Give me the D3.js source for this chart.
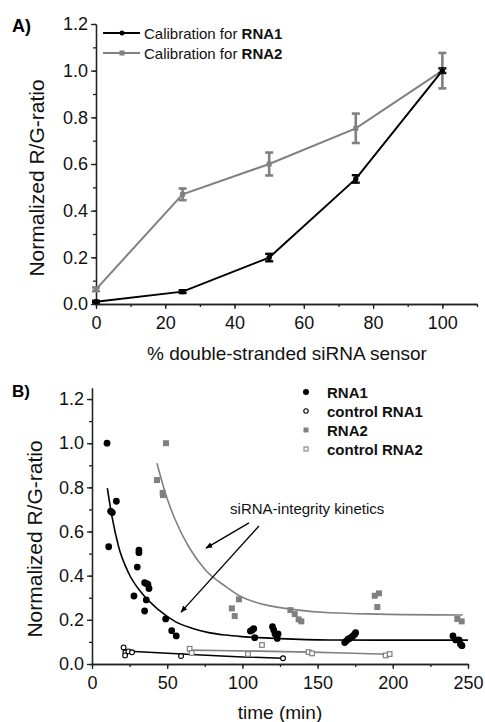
<!DOCTYPE html>
<html>
<head>
<meta charset="utf-8">
<script src="https://cdn.jsdelivr.net/npm/d3@7"></script>
<style>
  body { margin: 0; background: #fff; }
  svg { font-family: "Liberation Sans", Arial, sans-serif; }
  .axis path, .axis line { stroke: #222; stroke-width: 1.3; }
</style>
</head>
<body>
<svg id="chart" width="485" height="722"></svg>
<script>
// ---- dados painel A (calibração) ----
const calX      = [0, 25, 50, 75, 100];
const rna1Cal   = [0.01, 0.053, 0.199, 0.536, 1.0];
const rna1Err   = [0.004, 0.006, 0.016, 0.016, 0.01];
const rna2Cal   = [0.063, 0.47, 0.60, 0.753, 1.0];
const rna2Err   = [0.008, 0.025, 0.049, 0.063, 0.076];

// ---- dados painel B (cinética) ----
const rna1T = [10, 12.4, 13.5, 16.2, 11.1, 27.9, 30.1, 31.2, 31.2, 35, 36.1, 37.2, 37.9, 36.1, 35,
               49, 53, 56, 105.3, 106.6, 107.5, 108.2, 120, 120.8, 121.7, 123.7, 123.2,
               168, 169, 170.2, 171.3, 172.4, 173.5, 174.6, 175.3, 240, 241.8, 244, 245, 246];
const rna1V = [1.0, 0.692, 0.686, 0.737, 0.531, 0.308, 0.439, 0.516, 0.504, 0.368, 0.365, 0.36, 0.342, 0.29, 0.24,
               0.204, 0.151, 0.127, 0.149, 0.154, 0.16, 0.119, 0.169, 0.154, 0.136, 0.136, 0.116,
               0.097, 0.104, 0.112, 0.116, 0.121, 0.127, 0.134, 0.142, 0.127, 0.109, 0.109, 0.09, 0.083];

const ctrl1T = [21, 22.2, 22, 24.2, 26.6, 59.2, 127];
const ctrl1V = [0.075, 0.053, 0.039, 0.057, 0.053, 0.036, 0.026];

const rna2T = [43.2, 47, 47.2, 49.2, 93, 94.9, 97.7, 131.9, 134.8, 137.4, 139.2, 188, 190.8, 189.7, 242.9, 245.8];
const rna2V = [0.833, 0.775, 0.765, 1.0, 0.252, 0.217, 0.293, 0.244, 0.226, 0.202, 0.193, 0.309, 0.32, 0.258, 0.204, 0.193];

const ctrl2T = [64.9, 66.3, 103.7, 113, 144, 146.3, 195.3, 197.9];
const ctrl2V = [0.069, 0.05, 0.045, 0.086, 0.054, 0.048, 0.039, 0.045];

// curvas de ajuste
const fit1T = [10.2, 13.3, 17.7, 24.4, 33.2, 44.3, 55.4, 66.5, 77.6, 88.7, 99.7, 125, 158, 191, 250];
const fit1V = [0.796, 0.667, 0.531, 0.411, 0.320, 0.245, 0.192, 0.162, 0.142, 0.131, 0.124, 0.115, 0.109, 0.108, 0.108];
const fit2T = [43.2, 48.8, 55.4, 64.3, 75.4, 88.7, 100, 114, 136, 158, 191, 246.5];
const fit2V = [0.909, 0.773, 0.652, 0.531, 0.426, 0.352, 0.302, 0.27, 0.245, 0.232, 0.226, 0.222];
const fitC1T = [21, 60, 100, 127];
const fitC1V = [0.059, 0.045, 0.032, 0.026];
const fitC2T = [64.3, 92, 145, 191, 198];
const fitC2V = [0.063, 0.060, 0.054, 0.045, 0.044];

const legendB = ["RNA1", "control RNA1", "RNA2", "control RNA2"];

const CINZA = "#808080";
const svg = d3.select("#chart");

// ================== PAINEL A ==================
const xA = d3.scaleLinear().domain([0, 110]).range([96, 477]);
const yA = d3.scaleLinear().domain([0, 1.2]).range([304, 24]);

function eixos(g, x, y, xMaj, xMin, yMin, xfmt) {
    g.append("g").attr("class", "axis").attr("transform", `translate(0,${y.range()[0]})`)
        .call(d3.axisBottom(x).tickValues(xMin).tickSize(3).tickSizeOuter(0).tickFormat(""));
    g.append("g").attr("class", "axis").attr("transform", `translate(${x.range()[0]},0)`)
        .call(d3.axisLeft(y).tickValues(yMin).tickSize(3).tickSizeOuter(0).tickFormat(""));
    const ax = g.append("g").attr("class", "axis").attr("transform", `translate(0,${y.range()[0]})`)
        .call(d3.axisBottom(x).tickValues(xMaj).tickSize(5).tickSizeOuter(0).tickFormat(xfmt));
    ax.selectAll("text").attr("dy", "0.95em").attr("font-size", 18).attr("fill", "#111")
        .attr("font-family", "Liberation Sans, Arial, sans-serif");
    const ay = g.append("g").attr("class", "axis").attr("transform", `translate(${x.range()[0]},0)`)
        .call(d3.axisLeft(y).tickValues(d3.range(0, 1.21, 0.2)).tickSize(5).tickSizeOuter(0).tickFormat(d3.format(".1f")));
    ay.selectAll("text").attr("font-size", 18).attr("fill", "#111")
        .attr("font-family", "Liberation Sans, Arial, sans-serif");
}

const gA = svg.append("g");
eixos(gA, xA, yA, [0, 20, 40, 60, 80, 100], d3.range(0, 111, 10), d3.range(0, 1.21, 0.1), d3.format("d"));

const lineA = d3.line().x((d, i) => xA(calX[i])).y(d => yA(d));

// RNA2 (cinza) primeiro
gA.append("path").datum(rna2Cal).attr("d", lineA)
    .attr("fill", "none").attr("stroke", CINZA).attr("stroke-width", 2);
gA.append("path").datum(rna1Cal).attr("d", lineA)
    .attr("fill", "none").attr("stroke", "#000").attr("stroke-width", 2);

function barras(vals, errs, cor, larg) {
    vals.forEach((v, i) => {
        const cx = xA(calX[i]);
        const y1 = yA(v + errs[i]), y0 = yA(v - errs[i]);
        gA.append("line").attr("x1", cx).attr("x2", cx).attr("y1", y1).attr("y2", y0)
            .attr("stroke", cor).attr("stroke-width", larg);
        [y1, y0].forEach(yy => gA.append("line").attr("x1", cx - 4).attr("x2", cx + 4)
            .attr("y1", yy).attr("y2", yy).attr("stroke", cor).attr("stroke-width", larg));
    });
}
barras(rna2Cal, rna2Err, CINZA, 2.6);
barras(rna1Cal, rna1Err, "#000", 2.4);

gA.selectAll(".sq2").data(rna2Cal).join("rect")
    .attr("x", (d, i) => xA(calX[i]) - 2.5).attr("y", d => yA(d) - 2.5)
    .attr("width", 5).attr("height", 5).attr("fill", CINZA);
gA.selectAll(".c1").data(rna1Cal).join("circle")
    .attr("cx", (d, i) => xA(calX[i])).attr("cy", d => yA(d)).attr("r", 2.7).attr("fill", "#000");

// legenda A
[["RNA1", "#000", "c"], ["RNA2", CINZA, "s"]].forEach((l, i) => {
    const yy = 33 + i * 20;
    gA.append("line").attr("x1", 103).attr("x2", 140).attr("y1", yy).attr("y2", yy)
        .attr("stroke", l[1]).attr("stroke-width", 2);
    if (l[2] === "c") gA.append("circle").attr("cx", 122).attr("cy", yy).attr("r", 2.5).attr("fill", l[1]);
    else gA.append("rect").attr("x", 119.5).attr("y", yy - 2.5).attr("width", 5).attr("height", 5).attr("fill", l[1]);
    const t = gA.append("text").attr("x", 144).attr("y", yy + 5.5).attr("font-size", 15).attr("fill", "#111");
    t.append("tspan").text("Calibration for ");
    t.append("tspan").attr("font-weight", "bold").text(l[0]);
});

gA.append("text").attr("x", 12).attr("y", 32).attr("font-size", 18).attr("font-weight", "bold").text("A)");
gA.append("text").attr("transform", "translate(44,178) rotate(-90)").attr("text-anchor", "middle")
    .attr("font-size", 21).attr("fill", "#111").text("Normalized R/G-ratio");
gA.append("text").attr("x", 287).attr("y", 360).attr("text-anchor", "middle")
    .attr("font-size", 19).attr("fill", "#111").text("% double-stranded siRNA sensor");

// ================== PAINEL B ==================
const xB = d3.scaleLinear().domain([0, 250]).range([92, 468]);
const yB = d3.scaleLinear().domain([0, 1.25]).range([664, 388]);

const gB = svg.append("g");
eixos(gB, xB, yB, [0, 50, 100, 150, 200, 250], d3.range(0, 251, 25), d3.range(0, 1.21, 0.1), d3.format("d"));

const lineB = d3.line().curve(d3.curveMonotoneX);
function curva(ts, vs, cor, larg) {
    gB.append("path").datum(ts.map((t, i) => [xB(t), yB(vs[i])])).attr("d", lineB)
        .attr("fill", "none").attr("stroke", cor).attr("stroke-width", larg);
}
curva(fit2T, fit2V, CINZA, 1.6);
curva(fitC2T, fitC2V, CINZA, 1.6);
curva(fit1T, fit1V, "#000", 1.6);
curva(fitC1T, fitC1V, "#000", 1.4);

gB.selectAll(".r2").data(rna2T).join("rect")
    .attr("x", d => xB(d) - 3).attr("y", (d, i) => yB(rna2V[i]) - 3)
    .attr("width", 6).attr("height", 6).attr("fill", CINZA);
gB.selectAll(".c2").data(ctrl2T).join("rect")
    .attr("x", d => xB(d) - 2.3).attr("y", (d, i) => yB(ctrl2V[i]) - 2.3)
    .attr("width", 4.6).attr("height", 4.6).attr("fill", "#fff").attr("stroke", CINZA).attr("stroke-width", 1.2);
gB.selectAll(".r1").data(rna1T).join("circle")
    .attr("cx", d => xB(d)).attr("cy", (d, i) => yB(rna1V[i])).attr("r", 3.4).attr("fill", "#000");
gB.selectAll(".k1").data(ctrl1T).join("circle")
    .attr("cx", d => xB(d)).attr("cy", (d, i) => yB(ctrl1V[i])).attr("r", 2.4)
    .attr("fill", "#fff").attr("stroke", "#000").attr("stroke-width", 1.1);

// anotação com setas
svg.append("defs").append("marker").attr("id", "seta").attr("viewBox", "0 0 10 10")
    .attr("refX", 9).attr("refY", 5).attr("markerWidth", 7).attr("markerHeight", 7)
    .attr("orient", "auto").attr("markerUnits", "userSpaceOnUse")
    .append("path").attr("d", "M0,1 L10,5 L0,9 Z").attr("fill", "#000");
const setas = [[104.4, 0.639, 75.8, 0.525], [111, 0.625, 59.2, 0.235]];
setas.forEach(s => gB.append("line")
    .attr("x1", xB(s[0])).attr("y1", yB(s[1])).attr("x2", xB(s[2])).attr("y2", yB(s[3]))
    .attr("stroke", "#000").attr("stroke-width", 1.3).attr("marker-end", "url(#seta)"));
gB.append("text").attr("x", xB(91.8)).attr("y", yB(0.678)).attr("font-size", 15).attr("fill", "#111")
    .text("siRNA-integrity kinetics");

// legenda B
legendB.forEach((nome, i) => {
    const yy = 392 + i * 19;
    if (i === 0) gB.append("circle").attr("cx", 306).attr("cy", yy).attr("r", 3).attr("fill", "#000");
    if (i === 1) gB.append("circle").attr("cx", 306).attr("cy", yy).attr("r", 2.2).attr("fill", "#fff").attr("stroke", "#000").attr("stroke-width", 1.1);
    if (i === 2) gB.append("rect").attr("x", 303.5).attr("y", yy - 2.5).attr("width", 5).attr("height", 5).attr("fill", CINZA);
    if (i === 3) gB.append("rect").attr("x", 304).attr("y", yy - 2).attr("width", 4).attr("height", 4).attr("fill", "#fff").attr("stroke", CINZA).attr("stroke-width", 1.1);
    gB.append("text").attr("x", 327).attr("y", yy + 5.5).attr("font-size", 15).attr("font-weight", "bold")
        .attr("fill", "#111").text(nome);
});

gB.append("text").attr("x", 12).attr("y", 397).attr("font-size", 17).attr("font-weight", "bold").text("B)");
gB.append("text").attr("transform", "translate(42,539) rotate(-90)").attr("text-anchor", "middle")
    .attr("font-size", 21).attr("fill", "#111").text("Normalized R/G-ratio");
gB.append("text").attr("x", 280).attr("y", 719).attr("text-anchor", "middle")
    .attr("font-size", 19).attr("fill", "#111").text("time (min)");
</script>
</body>
</html>
